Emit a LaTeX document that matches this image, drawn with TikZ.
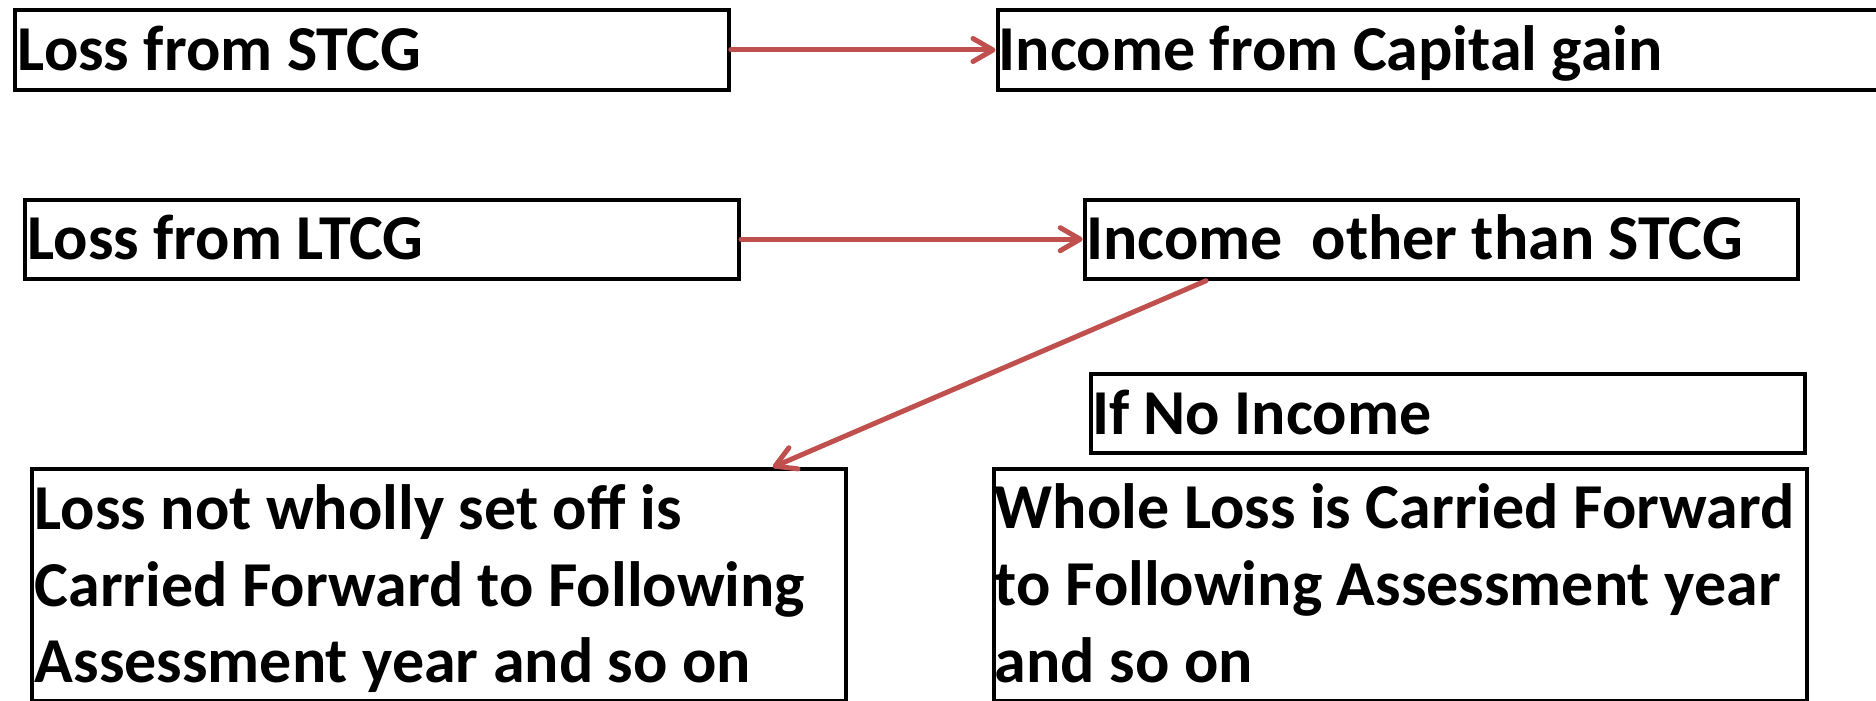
\documentclass[tikz,border=0pt]{standalone}
\usepackage{fontspec}
\setmainfont{Carlito}
\usetikzlibrary{arrows.meta,calc}
\definecolor{arrowred}{HTML}{C0504D}
\begin{document}
\begin{tikzpicture}[x=0.5pt,y=-0.5pt,
  box/.style={draw=black, line width=2pt, inner sep=0pt, anchor=north west},
  lbl/.style={anchor=base west, inner sep=0pt, font=\bfseries\fontsize{32}{38.35}\selectfont, align=left},
  conn/.style={draw=arrowred, line width=2.5pt, line cap=round, line join=round,
    -{Straight Barb[length=10pt,width=11.5pt,line cap=round,line join=round]}}]
\useasboundingbox (0,0) rectangle (1876,701);
\clip (0,0) rectangle (1876,701);
% boxes
\node[box, minimum width=356.7pt, minimum height=40pt] (b1) at (13.4,8) {};
\node[box, minimum width=449.75pt, minimum height=40pt] (b2) at (995.5,8) {};
\node[box, minimum width=356.85pt, minimum height=39.5pt] (b3) at (23.3,197.7) {};
\node[box, minimum width=356.8pt, minimum height=39.5pt] (b4) at (1082.7,197.7) {};
\node[box, minimum width=357.1pt, minimum height=39.65pt] (b5) at (1088.6,372) {};
\node[box, minimum width=406.85pt, minimum height=115.9pt] (b6) at (30.3,467.2) {};
\node[box, minimum width=406.75pt, minimum height=115.9pt] (b7) at (991.5,467.2) {};
% texts (multi-line texts are anchored at the baseline of their last line)
\node[lbl] (t1) at (17.5,70.7) {Loss from STCG};
\node[lbl] (t2) at (998.5,70.7) {Income from Capital gain};
\node[lbl] (t3) at (27.3,259.3) {Loss from LTCG};
\node[lbl] (t4) at (1085.7,259.3) {Income\ \ other than STCG};
\node[lbl] (t5) at (1091.6,434.3) {If No Income};
\node[lbl] (t6) at (34.3,682.7) {Loss not wholly set off is\\Carried Forward to Following\\Assessment year and so on};
\node[lbl] (t7) at (994.5,682.3) {Whole Loss is Carried Forward\\to Following Assessment year\\and so on};
% connectors
\draw[conn] (b1.east) -- (b2.west);
\draw[conn] (b3.east) -- (b4.west);
\draw[conn] ($(b4.south west)!0.172!(b4.south east)$) -- ($(b6.north west)!0.908!(b6.north east)$);
\end{tikzpicture}
\end{document}
